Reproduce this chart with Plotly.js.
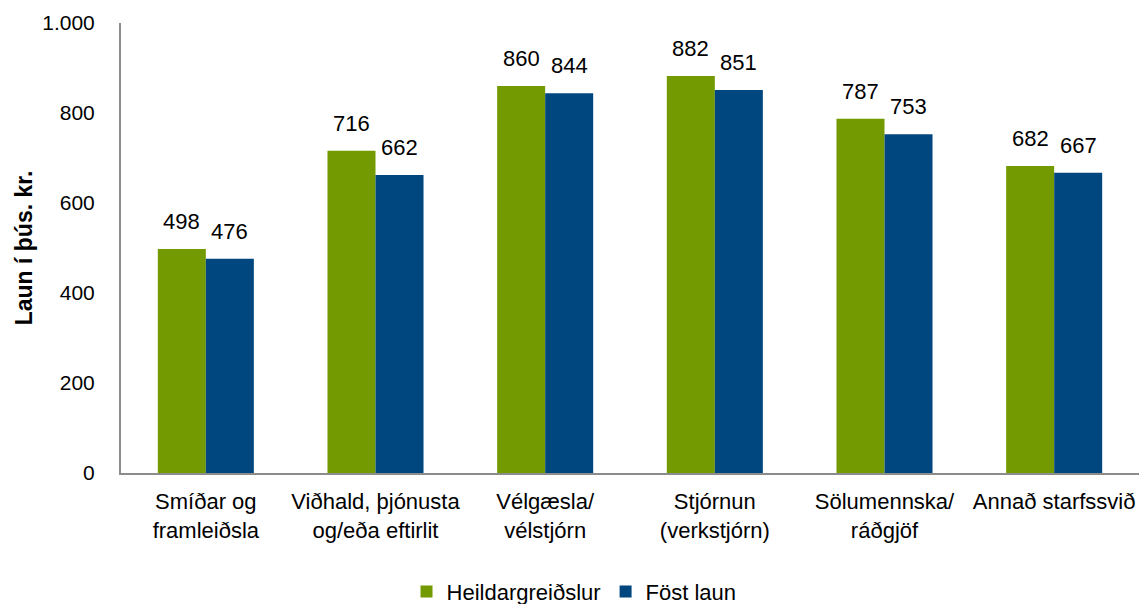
<!DOCTYPE html>
<html><head><meta charset="utf-8">
<script src="https://cdn.plot.ly/plotly-3.0.1.min.js"></script>
<style>body{margin:0;padding:0;background:#fff}#chart{width:1139px;height:604px}</style>
</head><body><div id="chart"></div>
<script>
const categories = ["Smíðar og<br>framleiðsla", "Viðhald, þjónusta<br>og/eða eftirlit", "Vélgæsla/<br>vélstjórn", "Stjórnun<br>(verkstjórn)", "Sölumennska/<br>ráðgjöf", "Annað starfssvið"];
const heildar = [498, 716, 860, 882, 787, 682];
const fost = [476, 662, 844, 851, 753, 667];
const seriesNames = ["Heildargreiðslur", "Föst laun"];
const yTicks = [0, 200, 400, 600, 800, 1000];
const yTickText = ["0", "200", "400", "600", "800", "1.000"];

const FONT = '"Liberation Sans", Arial, sans-serif';
const green = '#739A00', blue = '#00477F';
const bargap = 0.434;
const barW = (1 - bargap) / 2;

const traces = [
  {type:'bar', name: seriesNames[0], x: categories, y: heildar, marker:{color: green}, hoverinfo:'none'},
  {type:'bar', name: seriesNames[1], x: categories, y: fost, marker:{color: blue}, hoverinfo:'none'}
];

const annotations = [];
[heildar, fost].forEach((vals, s) => {
  vals.forEach((v, i) => {
    annotations.push({
      x: i + (s === 0 ? -barW/2 : barW/2), y: v, xref:'x', yref:'y',
      text: String(v), showarrow:false, yanchor:'bottom', yshift: 13,
      font:{family: FONT, size: 22, color:'#000'}
    });
  });
});

const layout = {
  width:1139, height:604,
  margin:{l:121, r:0, t:23, b:131, pad:0, autoexpand:false},
  paper_bgcolor:'#fff', plot_bgcolor:'#fff',
  barmode:'group', bargap: bargap, bargroupgap: 0,
  font:{family: FONT, size: 22, color:'#000'},
  xaxis:{
    type:'category', showline:true, linecolor:'#8C8C8C', linewidth:2,
    ticks:'outside', ticklen:8, tickcolor:'rgba(0,0,0,0)', tickangle:0,
    tickfont:{family: FONT, size: 22, color:'#000'}, automargin:false,
    showgrid:false, zeroline:false, fixedrange:true
  },
  yaxis:{
    range:[0,1000], tickvals: yTicks, ticktext: yTickText, automargin:false,
    showline:true, linecolor:'#8C8C8C', linewidth:2,
    ticks:'outside', ticklen:20, tickcolor:'rgba(0,0,0,0)',
    tickfont:{family: FONT, size: 21, color:'#000'},
    showgrid:false, zeroline:false,
    title:{text:'<b>Laun í þús. kr.</b>', font:{family: FONT, size: 23, color:'#000'}, standoff: 3}
  },
  showlegend:true,
  legend:{orientation:'h', x:0.445, xanchor:'center', y:-0.264, yanchor:'middle',
    font:{family: FONT, size: 22, color:'#000'}, itemwidth:30, tracegroupgap:0},
  annotations: annotations
};

Plotly.newPlot('chart', traces, layout, {displayModeBar:false, staticPlot:true});
</script></body></html>
